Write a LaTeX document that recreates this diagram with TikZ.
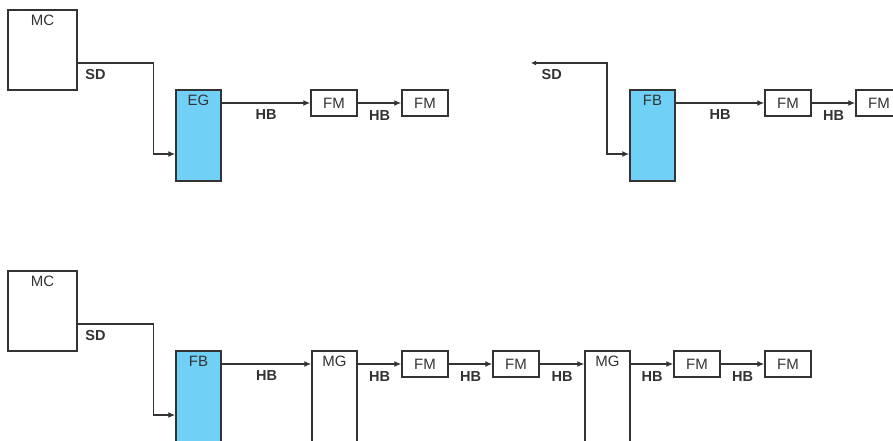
\documentclass[tikz,border=0pt]{standalone}
\usepackage{fontspec}
\setmainfont{Liberation Sans}
\usetikzlibrary{arrows.meta,positioning}
\definecolor{edge}{HTML}{333333}
\definecolor{genblue}{HTML}{70D0F6}
\tikzset{
  unit/.style={draw=edge,line width=1.5pt,fill=white,inner sep=0pt,
    font=\fontsize{15}{18}\selectfont,text=edge},
  small/.style={unit,minimum width=46pt,minimum height=26pt},
  tall/.style={unit,minimum width=45pt,minimum height=91pt},
  host/.style={unit,minimum width=69pt,minimum height=80pt},
  gen/.style={tall,fill=genblue},
  heading/.style={label={[anchor=north,inner sep=0pt,yshift=-6pt,
    font=\fontsize{15}{18}\selectfont,text=edge]north:#1}},
  tag/.style={font=\fontsize{14.5}{17}\selectfont\bfseries,text=edge,inner sep=0pt},
  wire/.style={-{Latex[length=7pt,width=6pt]},line width=1.3pt,draw=edge},
  stub/.style={wire,{Latex[length=5pt,width=5pt]}-{Latex[length=7pt,width=6pt]}}
}

\begin{document}
\begin{tikzpicture}[x=1pt,y=-1pt]
  \useasboundingbox (0,0) rectangle (893,441);
  \clip (0,0) rectangle (893,441);
  % top left
  \node[host,heading=MC] (mcA) at (42.5,50) {};
  \node[gen,heading=EG] (egA) at (198.5,135.5) {};
  \node[small] (fmA1) at (334,103) {FM};
  \node[small] (fmA2) at (425,103) {FM};
  \draw[wire] ([yshift=-13pt]mcA.east) node[tag,anchor=north west,xshift=7pt,yshift=-6pt] {SD}
    -- ++(76,0) |- ([yshift=-18.5pt]egA.west);
  \draw[wire] (egA.north east |- fmA1.west) -- node[tag,below=6pt] {HB} (fmA1.west);
  \draw[wire] (fmA1) -- node[tag,below=7pt] {HB} (fmA2);
  % top right
  \coordinate (sdB) at (531,63);
  \node[gen,heading=FB] (fbB) at (652.5,135.5) {};
  \node[small] (fmB1) at (788,103) {FM};
  \node[small] (fmB2) at (879,103) {FM};
  \draw[stub] (sdB) node[tag,anchor=north west,xshift=10pt,yshift=-6pt] {SD}
    -- ++(76,0) |- ([yshift=-18.5pt]fbB.west);
  \draw[wire] (fbB.north east |- fmB1.west) -- node[tag,below=6pt] {HB} (fmB1.west);
  \draw[wire] (fmB1) -- node[tag,below=7pt] {HB} (fmB2);
  % bottom
  \node[host,heading=MC] (mcC) at (42.5,311) {};
  \node[gen,heading=FB] (fbC) at (198.5,396.5) {};
  \node[tall,heading=MG] (mgC1) at (334.5,396.5) {};
  \node[small] (fmC1) at (425,364) {FM};
  \node[small] (fmC2) at (516,364) {FM};
  \node[tall,heading=MG] (mgC2) at (607.5,396.5) {};
  \node[small] (fmC3) at (697,364) {FM};
  \node[small] (fmC4) at (788,364) {FM};
  \draw[wire] ([yshift=-13pt]mcC.east) node[tag,anchor=north west,xshift=7pt,yshift=-6pt] {SD}
    -- ++(76,0) |- ([yshift=-18.5pt]fbC.west);
  \draw[wire] (fbC.north east |- fmC1.west) -- node[tag,below=6pt] {HB} (mgC1.north west |- fmC1.west);
  \draw[wire] (mgC1.north east |- fmC1.west) -- node[tag,below=7pt] {HB} (fmC1.west);
  \draw[wire] (fmC1) -- node[tag,below=7pt] {HB} (fmC2);
  \draw[wire] (fmC2.east) -- node[tag,below=7pt] {HB} (mgC2.north west |- fmC2.east);
  \draw[wire] (mgC2.north east |- fmC3.west) -- node[tag,below=7pt] {HB} (fmC3.west);
  \draw[wire] (fmC3) -- node[tag,below=7pt] {HB} (fmC4);
\end{tikzpicture}
\end{document}
